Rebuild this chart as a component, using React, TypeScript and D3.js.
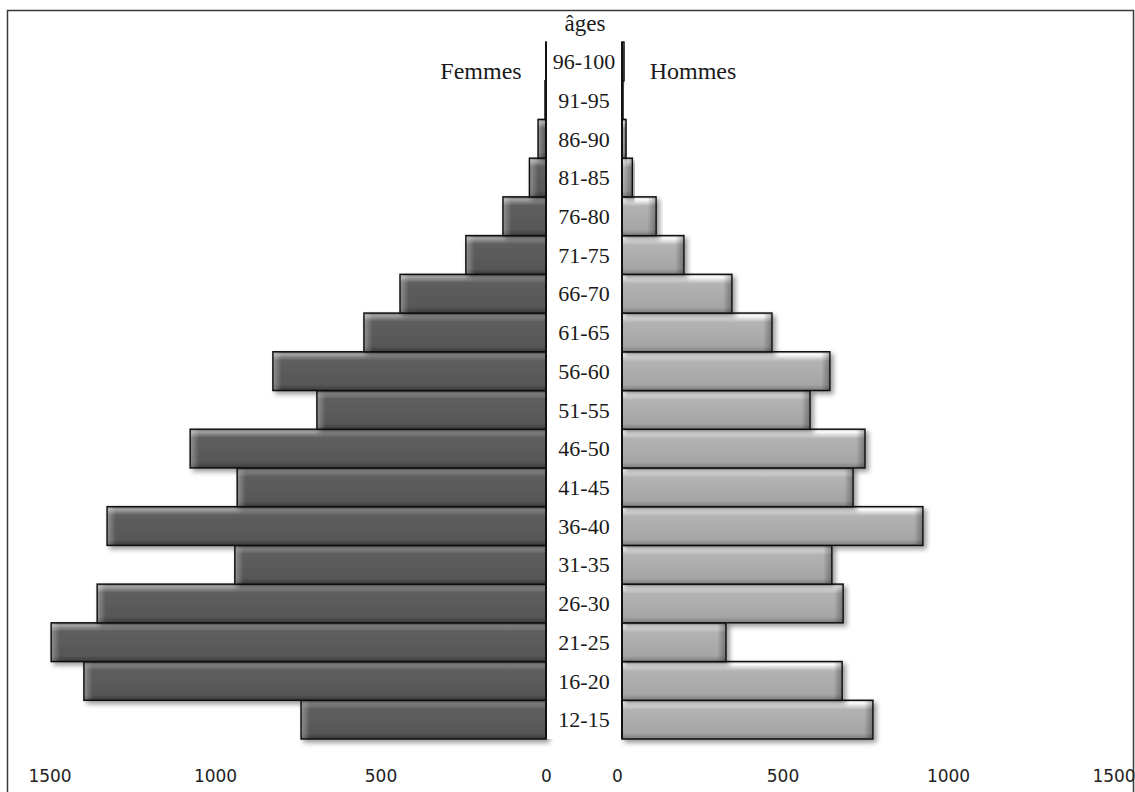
import React, { useRef, useEffect } from "react";
import * as d3 from "d3";

// age groups, bottom to top
const ages = [
  "12-15", "16-20", "21-25", "26-30", "31-35", "36-40", "41-45", "46-50", "51-55",
  "56-60", "61-65", "66-70", "71-75", "76-80", "81-85", "86-90", "91-95", "96-100",
];
const femmes = [740, 1396, 1495, 1356, 940, 1326, 933, 1075, 692, 825, 550, 441, 242, 130, 50, 24, 3, 2];
const hommes = [758, 665, 314, 668, 634, 909, 698, 734, 568, 628, 453, 332, 187, 103, 31, 12, 3, 6];
const ticks = [0, 500, 1000, 1500];

const W = 1135;
const H = 792;

const App = () => {
  const ref = useRef<SVGSVGElement>(null);

  useEffect(() => {
    if (!ref.current) return;
    const svg = d3.select(ref.current);
    svg.selectAll("*").remove();

    const leftZero = 546;
    const rightZero = 622;
    const k = 0.331;
    const top = 42;
    const bottom = 739;

    const xL = d3.scaleLinear().domain([0, 1500]).range([leftZero, leftZero - 1500 * k]);
    const xR = d3.scaleLinear().domain([0, 1500]).range([rightZero, rightZero + 1500 * k]);
    const y = d3.scaleBand().domain([...ages].reverse()).range([top, bottom]).padding(0);

    const defs = svg.append("defs");
    const grad = (id: string, stops: [number, string, number][], horiz = false) => {
      const g = defs
        .append("linearGradient")
        .attr("id", id)
        .attr("x1", 0)
        .attr("y1", 0)
        .attr("x2", horiz ? 1 : 0)
        .attr("y2", horiz ? 0 : 1);
      stops.forEach(([o, c, a]) =>
        g.append("stop").attr("offset", o).attr("stop-color", c).attr("stop-opacity", a)
      );
    };
    grad("gL", [
      [0, "#6e6e6e", 1],
      [0.07, "#a2a2a2", 1],
      [0.22, "#5e5e5e", 1],
      [0.85, "#575757", 1],
      [1, "#3a3a3a", 1],
    ]);
    grad("gR", [
      [0, "#c4c4c4", 1],
      [0.07, "#fdfdfd", 1],
      [0.24, "#b3b3b3", 1],
      [0.85, "#a5a5a5", 1],
      [1, "#7c7c7c", 1],
    ]);
    grad("eL", [[0, "#ffffff", 0.3], [1, "#ffffff", 0]], true);
    grad("eR", [[0, "#000000", 0], [1, "#000000", 0.3]], true);

    const f = defs
      .append("filter")
      .attr("id", "shadow")
      .attr("x", "-10%")
      .attr("y", "-30%")
      .attr("width", "130%")
      .attr("height", "180%");
    f.append("feDropShadow")
      .attr("dx", 3)
      .attr("dy", 3)
      .attr("stdDeviation", 2.5)
      .attr("flood-color", "#000")
      .attr("flood-opacity", 0.4);

    svg.append("rect").attr("width", W).attr("height", H).attr("fill", "#fff");

    // frame
    svg
      .append("rect")
      .attr("x", 7.5)
      .attr("y", 10.5)
      .attr("width", 1126)
      .attr("height", 820)
      .attr("fill", "none")
      .attr("stroke", "#3a3a3a")
      .attr("stroke-width", 1.5);

    const bh = y.bandwidth();

    // femmes (left)
    const gl = svg.append("g");
    ages.forEach((a, i) => {
      const v = femmes[i];
      const x0 = xL(v);
      const w = leftZero - x0;
      const yy = y(a) as number;
      const b = gl.append("g").attr("filter", "url(#shadow)");
      b.append("rect")
        .attr("x", x0)
        .attr("y", yy)
        .attr("width", w)
        .attr("height", bh)
        .attr("fill", "url(#gL)")
        .attr("stroke", "#111")
        .attr("stroke-width", 1.5);
      b.append("rect")
        .attr("x", x0 + 0.75)
        .attr("y", yy + 0.75)
        .attr("width", Math.min(8, Math.max(0, w - 1.5)))
        .attr("height", bh - 1.5)
        .attr("fill", "url(#eL)");
    });

    // hommes (right)
    const gr = svg.append("g");
    ages.forEach((a, i) => {
      const v = hommes[i];
      const x1 = xR(v);
      const w = x1 - rightZero;
      const yy = y(a) as number;
      const b = gr.append("g").attr("filter", "url(#shadow)");
      b.append("rect")
        .attr("x", rightZero)
        .attr("y", yy)
        .attr("width", w)
        .attr("height", bh)
        .attr("fill", "url(#gR)")
        .attr("stroke", "#111")
        .attr("stroke-width", 1.5);
      const ew = Math.min(8, Math.max(0, w - 1.5));
      b.append("rect")
        .attr("x", x1 - 0.75 - ew)
        .attr("y", yy + 0.75)
        .attr("width", ew)
        .attr("height", bh - 1.5)
        .attr("fill", "url(#eR)");
    });

    // centre column with the age labels
    svg
      .append("rect")
      .attr("x", leftZero)
      .attr("y", top)
      .attr("width", rightZero - leftZero)
      .attr("height", bottom - top)
      .attr("fill", "#fff");
    [leftZero, rightZero].forEach((x) =>
      svg
        .append("line")
        .attr("x1", x)
        .attr("x2", x)
        .attr("y1", top)
        .attr("y2", bottom)
        .attr("stroke", "#111")
        .attr("stroke-width", 2)
    );

    const serif = "'Liberation Serif', 'Times New Roman', serif";
    const mid = (leftZero + rightZero) / 2;
    svg
      .append("g")
      .selectAll("text")
      .data(ages)
      .join("text")
      .attr("x", mid)
      .attr("y", (d) => (y(d) as number) + bh / 2)
      .attr("dy", "0.35em")
      .attr("text-anchor", "middle")
      .attr("font-family", serif)
      .attr("font-size", 22)
      .attr("fill", "#1a1a1a")
      .text((d) => d);

    svg
      .append("text")
      .attr("x", mid + 1)
      .attr("y", 31)
      .attr("text-anchor", "middle")
      .attr("font-family", serif)
      .attr("font-size", 23)
      .attr("fill", "#1a1a1a")
      .text("âges");
    svg
      .append("text")
      .attr("x", 481)
      .attr("y", 79)
      .attr("text-anchor", "middle")
      .attr("font-family", serif)
      .attr("font-size", 24)
      .attr("fill", "#1a1a1a")
      .text("Femmes");
    svg
      .append("text")
      .attr("x", 693)
      .attr("y", 79)
      .attr("text-anchor", "middle")
      .attr("font-family", serif)
      .attr("font-size", 24)
      .attr("fill", "#1a1a1a")
      .text("Hommes");

    // bottom axes
    const axisFont = "'DejaVu Sans', Verdana, sans-serif";
    const axL = svg
      .append("g")
      .attr("transform", `translate(0,${bottom + 28})`)
      .call(d3.axisBottom(xL).tickValues(ticks).tickSize(0).tickFormat(d3.format("d")));
    const axR = svg
      .append("g")
      .attr("transform", `translate(-5,${bottom + 28})`)
      .call(d3.axisBottom(xR).tickValues(ticks).tickSize(0).tickFormat(d3.format("d")));
    [axL, axR].forEach((ax) => {
      ax.select(".domain").remove();
      ax.selectAll("text")
        .attr("font-family", axisFont)
        .attr("font-size", 17)
        .attr("fill", "#222");
    });
  }, []);

  return (
    <svg
      ref={ref}
      width={W}
      height={H}
      style={{ position: "absolute", left: 0, top: 0, display: "block" }}
    />
  );
};

export default App;
